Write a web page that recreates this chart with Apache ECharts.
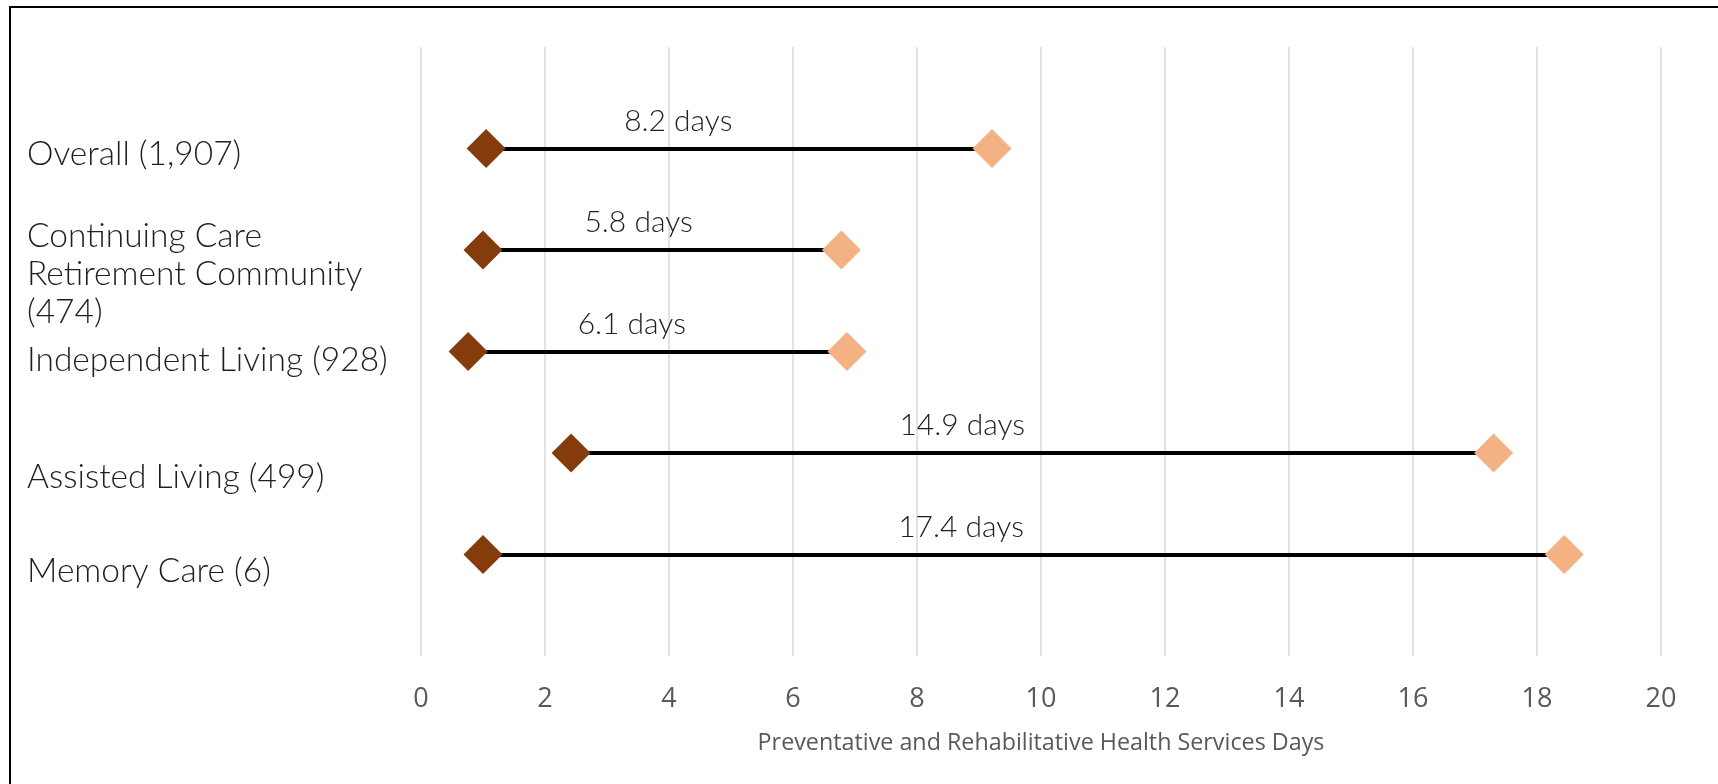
<!DOCTYPE html>
<html>
<head>
<meta charset="utf-8">
<script src="https://cdn.jsdelivr.net/npm/echarts@6/dist/echarts.min.js"></script>
<style>
  html, body { margin: 0; padding: 0; background: #fff; }
  #chart { width: 1718px; height: 784px; }
</style>
</head>
<body>
<div id="chart"></div>
<script>
// ---- data ----
const categories = [
  'Overall (1,907)',
  'Continuing Care\nRetirement Community\n(474)',
  'Independent Living (928)',
  'Assisted Living (499)',
  'Memory Care (6)'
];
const startDays = [1.05, 1.0, 0.76, 2.42, 1.0];
const endDays = [9.21, 6.78, 6.87, 17.3, 18.44];
const gapLabelAt = [4.15, 3.51, 3.4, 8.73, 8.71];
const xTicks = [0, 2, 4, 6, 8, 10, 12, 14, 16, 18, 20];
const xTitle = 'Preventative and Rehabilitative Health Services Days';

// ---- styling ----
const labelNudge = [0.06, 0.235, 0.09, 0.235, 0.16]; // vertical nudge of category labels (axis units)
const rowOf = i => i + 1;
const serifFont = 'Lato';

const chart = echarts.init(document.getElementById('chart'), null, { renderer: 'canvas' });

const lineData = categories.map((c, i) => ({ coords: [[startDays[i], rowOf(i)], [endDays[i], rowOf(i)]] }));
const startData = categories.map((c, i) => [startDays[i], rowOf(i)]);
const endData = categories.map((c, i) => [endDays[i], rowOf(i)]);
const gapData = categories.map((c, i) => ({
  value: [gapLabelAt[i], rowOf(i)],
  gap: (endDays[i] - startDays[i]).toFixed(1) + ' days'
}));
const labelValues = categories.map((c, i) => rowOf(i) + labelNudge[i]);

chart.setOption({
  animation: false,
  backgroundColor: '#ffffff',
  graphic: [{
    type: 'rect',
    shape: { x: 10, y: 7, width: 1800, height: 900 },
    style: { fill: 'none', stroke: '#000000', lineWidth: 2 },
    silent: true
  }],
  grid: { left: 421, right: 57, top: 47, bottom: 128, containLabel: false },
  xAxis: {
    type: 'value',
    min: xTicks[0],
    max: xTicks[xTicks.length - 1],
    interval: xTicks[1] - xTicks[0],
    axisLine: { show: false },
    axisTick: { show: false },
    splitLine: { show: true, lineStyle: { color: '#d9d9d9', width: 1.5 } },
    axisLabel: {
      margin: 30,
      color: '#595959',
      fontFamily: 'Open Sans',
      fontSize: 27
    },
    name: xTitle,
    nameLocation: 'middle',
    nameGap: 76,
    nameTextStyle: { color: '#595959', fontFamily: 'Open Sans', fontSize: 23.3 }
  },
  yAxis: {
    type: 'value',
    min: 0,
    max: 6,
    inverse: true,
    axisLine: { show: false },
    axisTick: { show: false },
    splitLine: { show: false },
    axisLabel: {
      customValues: labelValues,
      align: 'left',
      margin: 394,
      color: '#1f1f1f',
      fontFamily: serifFont,
      fontWeight: 300,
      fontSize: 33.5,
      lineHeight: 38,
      formatter: v => categories[Math.round(v) - 1] || ''
    }
  },
  series: [
    {
      type: 'lines',
      coordinateSystem: 'cartesian2d',
      data: lineData,
      lineStyle: { color: '#000000', width: 4, opacity: 1 },
      silent: true,
      z: 1
    },
    {
      type: 'scatter',
      data: startData,
      symbol: 'diamond',
      symbolSize: 39,
      itemStyle: { color: '#843C0C', opacity: 1 },
      z: 3
    },
    {
      type: 'scatter',
      data: endData,
      symbol: 'diamond',
      symbolSize: 39,
      itemStyle: { color: '#F4B183', opacity: 1 },
      z: 3
    },
    {
      type: 'scatter',
      data: gapData,
      symbol: 'circle',
      symbolSize: 1,
      itemStyle: { color: 'rgba(0,0,0,0)', opacity: 1 },
      label: {
        show: true,
        position: 'top',
        distance: 12,
        formatter: p => p.data.gap,
        color: '#1f1f1f',
        fontFamily: serifFont,
        fontWeight: 300,
        fontSize: 30
      },
      z: 4
    }
  ]
});
</script>
</body>
</html>
